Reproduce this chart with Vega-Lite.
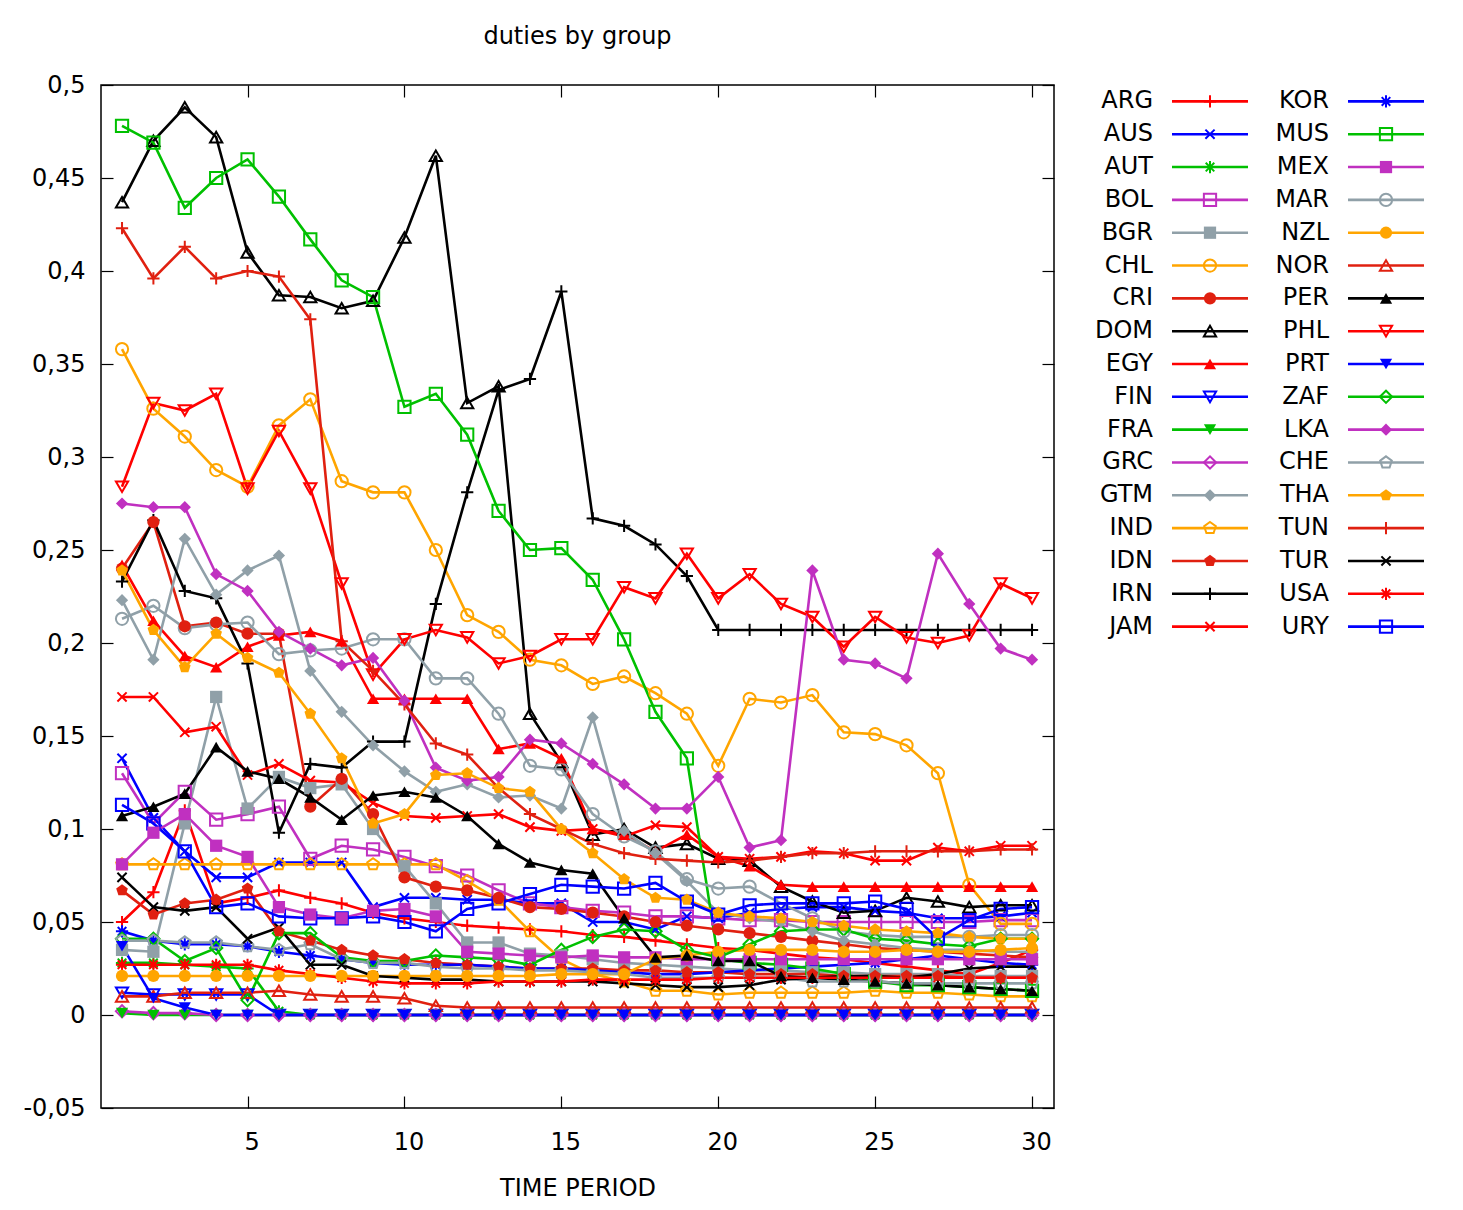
{
"$schema":"https://vega.github.io/schema/vega-lite/v6.json",
"padding":{"left":22,"top":24,"right":5,"bottom":5},
"config":{"font":"DejaVu Sans","view":{"stroke":null},"text":{"fontSize":24},"axis":{"labelFontSize":24,"titleFontSize":24,"labelColor":"#000","titleColor":"#000","tickColor":"#000","titleFontWeight":"normal"}},
"data":{"values":[
{"c":"ARG","t":1,"v":0.050},{"c":"ARG","t":2,"v":0.066},{"c":"ARG","t":3,"v":0.110},{"c":"ARG","t":4,"v":0.060},{"c":"ARG","t":5,"v":0.063},{"c":"ARG","t":6,"v":0.067},{"c":"ARG","t":7,"v":0.063},{"c":"ARG","t":8,"v":0.060},{"c":"ARG","t":9,"v":0.055},{"c":"ARG","t":10,"v":0.052},{"c":"ARG","t":11,"v":0.050},{"c":"ARG","t":12,"v":0.048},{"c":"ARG","t":13,"v":0.047},{"c":"ARG","t":14,"v":0.046},{"c":"ARG","t":15,"v":0.045},{"c":"ARG","t":16,"v":0.043},{"c":"ARG","t":17,"v":0.042},{"c":"ARG","t":18,"v":0.040},{"c":"ARG","t":19,"v":0.038},{"c":"ARG","t":20,"v":0.036},{"c":"ARG","t":21,"v":0.035},{"c":"ARG","t":22,"v":0.033},{"c":"ARG","t":23,"v":0.031},{"c":"ARG","t":24,"v":0.030},{"c":"ARG","t":25,"v":0.028},{"c":"ARG","t":26,"v":0.026},{"c":"ARG","t":27,"v":0.024},{"c":"ARG","t":28,"v":0.022},{"c":"ARG","t":29,"v":0.028},{"c":"ARG","t":30,"v":0.035},
{"c":"AUS","t":1,"v":0.138},{"c":"AUS","t":2,"v":0.106},{"c":"AUS","t":3,"v":0.088},{"c":"AUS","t":4,"v":0.074},{"c":"AUS","t":5,"v":0.074},{"c":"AUS","t":6,"v":0.082},{"c":"AUS","t":7,"v":0.082},{"c":"AUS","t":8,"v":0.082},{"c":"AUS","t":9,"v":0.058},{"c":"AUS","t":10,"v":0.063},{"c":"AUS","t":11,"v":0.063},{"c":"AUS","t":12,"v":0.062},{"c":"AUS","t":13,"v":0.062},{"c":"AUS","t":14,"v":0.060},{"c":"AUS","t":15,"v":0.060},{"c":"AUS","t":16,"v":0.050},{"c":"AUS","t":17,"v":0.050},{"c":"AUS","t":18,"v":0.046},{"c":"AUS","t":19,"v":0.053},{"c":"AUS","t":20,"v":0.052},{"c":"AUS","t":21,"v":0.055},{"c":"AUS","t":22,"v":0.057},{"c":"AUS","t":23,"v":0.058},{"c":"AUS","t":24,"v":0.058},{"c":"AUS","t":25,"v":0.056},{"c":"AUS","t":26,"v":0.055},{"c":"AUS","t":27,"v":0.052},{"c":"AUS","t":28,"v":0.052},{"c":"AUS","t":29,"v":0.053},{"c":"AUS","t":30,"v":0.055},
{"c":"AUT","t":1,"v":0.028},{"c":"AUT","t":2,"v":0.028},{"c":"AUT","t":3,"v":0.027},{"c":"AUT","t":4,"v":0.026},{"c":"AUT","t":5,"v":0.025},{"c":"AUT","t":6,"v":0.002},{"c":"AUT","t":7,"v":0},{"c":"AUT","t":8,"v":0},{"c":"AUT","t":9,"v":0},{"c":"AUT","t":10,"v":0},{"c":"AUT","t":11,"v":0},{"c":"AUT","t":12,"v":0},{"c":"AUT","t":13,"v":0},{"c":"AUT","t":14,"v":0},{"c":"AUT","t":15,"v":0},{"c":"AUT","t":16,"v":0},{"c":"AUT","t":17,"v":0},{"c":"AUT","t":18,"v":0},{"c":"AUT","t":19,"v":0},{"c":"AUT","t":20,"v":0},{"c":"AUT","t":21,"v":0},{"c":"AUT","t":22,"v":0},{"c":"AUT","t":23,"v":0},{"c":"AUT","t":24,"v":0},{"c":"AUT","t":25,"v":0},{"c":"AUT","t":26,"v":0},{"c":"AUT","t":27,"v":0},{"c":"AUT","t":28,"v":0},{"c":"AUT","t":29,"v":0},{"c":"AUT","t":30,"v":0},
{"c":"BOL","t":1,"v":0.130},{"c":"BOL","t":2,"v":0.103},{"c":"BOL","t":3,"v":0.120},{"c":"BOL","t":4,"v":0.105},{"c":"BOL","t":5,"v":0.108},{"c":"BOL","t":6,"v":0.112},{"c":"BOL","t":7,"v":0.084},{"c":"BOL","t":8,"v":0.091},{"c":"BOL","t":9,"v":0.089},{"c":"BOL","t":10,"v":0.085},{"c":"BOL","t":11,"v":0.080},{"c":"BOL","t":12,"v":0.075},{"c":"BOL","t":13,"v":0.067},{"c":"BOL","t":14,"v":0.060},{"c":"BOL","t":15,"v":0.058},{"c":"BOL","t":16,"v":0.056},{"c":"BOL","t":17,"v":0.055},{"c":"BOL","t":18,"v":0.053},{"c":"BOL","t":19,"v":0.053},{"c":"BOL","t":20,"v":0.052},{"c":"BOL","t":21,"v":0.051},{"c":"BOL","t":22,"v":0.051},{"c":"BOL","t":23,"v":0.050},{"c":"BOL","t":24,"v":0.050},{"c":"BOL","t":25,"v":0.050},{"c":"BOL","t":26,"v":0.050},{"c":"BOL","t":27,"v":0.050},{"c":"BOL","t":28,"v":0.050},{"c":"BOL","t":29,"v":0.051},{"c":"BOL","t":30,"v":0.051},
{"c":"BGR","t":1,"v":0.035},{"c":"BGR","t":2,"v":0.034},{"c":"BGR","t":3,"v":0.103},{"c":"BGR","t":4,"v":0.171},{"c":"BGR","t":5,"v":0.111},{"c":"BGR","t":6,"v":0.128},{"c":"BGR","t":7,"v":0.122},{"c":"BGR","t":8,"v":0.124},{"c":"BGR","t":9,"v":0.100},{"c":"BGR","t":10,"v":0.080},{"c":"BGR","t":11,"v":0.060},{"c":"BGR","t":12,"v":0.039},{"c":"BGR","t":13,"v":0.039},{"c":"BGR","t":14,"v":0.033},{"c":"BGR","t":15,"v":0.032},{"c":"BGR","t":16,"v":0.030},{"c":"BGR","t":17,"v":0.028},{"c":"BGR","t":18,"v":0.027},{"c":"BGR","t":19,"v":0.026},{"c":"BGR","t":20,"v":0.025},{"c":"BGR","t":21,"v":0.024},{"c":"BGR","t":22,"v":0.024},{"c":"BGR","t":23,"v":0.023},{"c":"BGR","t":24,"v":0.023},{"c":"BGR","t":25,"v":0.022},{"c":"BGR","t":26,"v":0.022},{"c":"BGR","t":27,"v":0.022},{"c":"BGR","t":28,"v":0.021},{"c":"BGR","t":29,"v":0.021},{"c":"BGR","t":30,"v":0.021},
{"c":"CHL","t":1,"v":0.358},{"c":"CHL","t":2,"v":0.326},{"c":"CHL","t":3,"v":0.311},{"c":"CHL","t":4,"v":0.293},{"c":"CHL","t":5,"v":0.284},{"c":"CHL","t":6,"v":0.317},{"c":"CHL","t":7,"v":0.331},{"c":"CHL","t":8,"v":0.287},{"c":"CHL","t":9,"v":0.281},{"c":"CHL","t":10,"v":0.281},{"c":"CHL","t":11,"v":0.250},{"c":"CHL","t":12,"v":0.215},{"c":"CHL","t":13,"v":0.206},{"c":"CHL","t":14,"v":0.191},{"c":"CHL","t":15,"v":0.188},{"c":"CHL","t":16,"v":0.178},{"c":"CHL","t":17,"v":0.182},{"c":"CHL","t":18,"v":0.173},{"c":"CHL","t":19,"v":0.162},{"c":"CHL","t":20,"v":0.134},{"c":"CHL","t":21,"v":0.170},{"c":"CHL","t":22,"v":0.168},{"c":"CHL","t":23,"v":0.172},{"c":"CHL","t":24,"v":0.152},{"c":"CHL","t":25,"v":0.151},{"c":"CHL","t":26,"v":0.145},{"c":"CHL","t":27,"v":0.130},{"c":"CHL","t":28,"v":0.070},{"c":"CHL","t":29,"v":0.049},{"c":"CHL","t":30,"v":0.049},
{"c":"CRI","t":1,"v":0.240},{"c":"CRI","t":2,"v":0.265},{"c":"CRI","t":3,"v":0.209},{"c":"CRI","t":4,"v":0.211},{"c":"CRI","t":5,"v":0.205},{"c":"CRI","t":6,"v":0.205},{"c":"CRI","t":7,"v":0.112},{"c":"CRI","t":8,"v":0.127},{"c":"CRI","t":9,"v":0.108},{"c":"CRI","t":10,"v":0.074},{"c":"CRI","t":11,"v":0.069},{"c":"CRI","t":12,"v":0.067},{"c":"CRI","t":13,"v":0.063},{"c":"CRI","t":14,"v":0.058},{"c":"CRI","t":15,"v":0.057},{"c":"CRI","t":16,"v":0.055},{"c":"CRI","t":17,"v":0.053},{"c":"CRI","t":18,"v":0.050},{"c":"CRI","t":19,"v":0.048},{"c":"CRI","t":20,"v":0.046},{"c":"CRI","t":21,"v":0.044},{"c":"CRI","t":22,"v":0.042},{"c":"CRI","t":23,"v":0.040},{"c":"CRI","t":24,"v":0.038},{"c":"CRI","t":25,"v":0.036},{"c":"CRI","t":26,"v":0.035},{"c":"CRI","t":27,"v":0.034},{"c":"CRI","t":28,"v":0.033},{"c":"CRI","t":29,"v":0.032},{"c":"CRI","t":30,"v":0.031},
{"c":"DOM","t":1,"v":0.437},{"c":"DOM","t":2,"v":0.470},{"c":"DOM","t":3,"v":0.488},{"c":"DOM","t":4,"v":0.472},{"c":"DOM","t":5,"v":0.410},{"c":"DOM","t":6,"v":0.387},{"c":"DOM","t":7,"v":0.386},{"c":"DOM","t":8,"v":0.380},{"c":"DOM","t":9,"v":0.384},{"c":"DOM","t":10,"v":0.418},{"c":"DOM","t":11,"v":0.462},{"c":"DOM","t":12,"v":0.329},{"c":"DOM","t":13,"v":0.338},{"c":"DOM","t":14,"v":0.162},{"c":"DOM","t":15,"v":0.136},{"c":"DOM","t":16,"v":0.097},{"c":"DOM","t":17,"v":0.100},{"c":"DOM","t":18,"v":0.090},{"c":"DOM","t":19,"v":0.092},{"c":"DOM","t":20,"v":0.084},{"c":"DOM","t":21,"v":0.083},{"c":"DOM","t":22,"v":0.069},{"c":"DOM","t":23,"v":0.061},{"c":"DOM","t":24,"v":0.055},{"c":"DOM","t":25,"v":0.056},{"c":"DOM","t":26,"v":0.063},{"c":"DOM","t":27,"v":0.061},{"c":"DOM","t":28,"v":0.058},{"c":"DOM","t":29,"v":0.059},{"c":"DOM","t":30,"v":0.059},
{"c":"EGY","t":1,"v":0.242},{"c":"EGY","t":2,"v":0.212},{"c":"EGY","t":3,"v":0.193},{"c":"EGY","t":4,"v":0.187},{"c":"EGY","t":5,"v":0.198},{"c":"EGY","t":6,"v":0.204},{"c":"EGY","t":7,"v":0.206},{"c":"EGY","t":8,"v":0.201},{"c":"EGY","t":9,"v":0.170},{"c":"EGY","t":10,"v":0.170},{"c":"EGY","t":11,"v":0.170},{"c":"EGY","t":12,"v":0.170},{"c":"EGY","t":13,"v":0.143},{"c":"EGY","t":14,"v":0.146},{"c":"EGY","t":15,"v":0.138},{"c":"EGY","t":16,"v":0.100},{"c":"EGY","t":17,"v":0.097},{"c":"EGY","t":18,"v":0.088},{"c":"EGY","t":19,"v":0.097},{"c":"EGY","t":20,"v":0.085},{"c":"EGY","t":21,"v":0.080},{"c":"EGY","t":22,"v":0.070},{"c":"EGY","t":23,"v":0.069},{"c":"EGY","t":24,"v":0.069},{"c":"EGY","t":25,"v":0.069},{"c":"EGY","t":26,"v":0.069},{"c":"EGY","t":27,"v":0.069},{"c":"EGY","t":28,"v":0.069},{"c":"EGY","t":29,"v":0.069},{"c":"EGY","t":30,"v":0.069},
{"c":"FIN","t":1,"v":0.012},{"c":"FIN","t":2,"v":0.011},{"c":"FIN","t":3,"v":0.011},{"c":"FIN","t":4,"v":0.011},{"c":"FIN","t":5,"v":0.011},{"c":"FIN","t":6,"v":0},{"c":"FIN","t":7,"v":0},{"c":"FIN","t":8,"v":0},{"c":"FIN","t":9,"v":0},{"c":"FIN","t":10,"v":0},{"c":"FIN","t":11,"v":0},{"c":"FIN","t":12,"v":0},{"c":"FIN","t":13,"v":0},{"c":"FIN","t":14,"v":0},{"c":"FIN","t":15,"v":0},{"c":"FIN","t":16,"v":0},{"c":"FIN","t":17,"v":0},{"c":"FIN","t":18,"v":0},{"c":"FIN","t":19,"v":0},{"c":"FIN","t":20,"v":0},{"c":"FIN","t":21,"v":0},{"c":"FIN","t":22,"v":0},{"c":"FIN","t":23,"v":0},{"c":"FIN","t":24,"v":0},{"c":"FIN","t":25,"v":0},{"c":"FIN","t":26,"v":0},{"c":"FIN","t":27,"v":0},{"c":"FIN","t":28,"v":0},{"c":"FIN","t":29,"v":0},{"c":"FIN","t":30,"v":0},
{"c":"FRA","t":1,"v":0.001},{"c":"FRA","t":2,"v":0},{"c":"FRA","t":3,"v":0},{"c":"FRA","t":4,"v":0},{"c":"FRA","t":5,"v":0},{"c":"FRA","t":6,"v":0},{"c":"FRA","t":7,"v":0},{"c":"FRA","t":8,"v":0},{"c":"FRA","t":9,"v":0},{"c":"FRA","t":10,"v":0},{"c":"FRA","t":11,"v":0},{"c":"FRA","t":12,"v":0},{"c":"FRA","t":13,"v":0},{"c":"FRA","t":14,"v":0},{"c":"FRA","t":15,"v":0},{"c":"FRA","t":16,"v":0},{"c":"FRA","t":17,"v":0},{"c":"FRA","t":18,"v":0},{"c":"FRA","t":19,"v":0},{"c":"FRA","t":20,"v":0},{"c":"FRA","t":21,"v":0},{"c":"FRA","t":22,"v":0},{"c":"FRA","t":23,"v":0},{"c":"FRA","t":24,"v":0},{"c":"FRA","t":25,"v":0},{"c":"FRA","t":26,"v":0},{"c":"FRA","t":27,"v":0},{"c":"FRA","t":28,"v":0},{"c":"FRA","t":29,"v":0},{"c":"FRA","t":30,"v":0},
{"c":"GRC","t":1,"v":0.002},{"c":"GRC","t":2,"v":0.001},{"c":"GRC","t":3,"v":0.001},{"c":"GRC","t":4,"v":0},{"c":"GRC","t":5,"v":0},{"c":"GRC","t":6,"v":0},{"c":"GRC","t":7,"v":0},{"c":"GRC","t":8,"v":0},{"c":"GRC","t":9,"v":0},{"c":"GRC","t":10,"v":0},{"c":"GRC","t":11,"v":0},{"c":"GRC","t":12,"v":0},{"c":"GRC","t":13,"v":0},{"c":"GRC","t":14,"v":0},{"c":"GRC","t":15,"v":0},{"c":"GRC","t":16,"v":0},{"c":"GRC","t":17,"v":0},{"c":"GRC","t":18,"v":0},{"c":"GRC","t":19,"v":0},{"c":"GRC","t":20,"v":0},{"c":"GRC","t":21,"v":0},{"c":"GRC","t":22,"v":0},{"c":"GRC","t":23,"v":0},{"c":"GRC","t":24,"v":0},{"c":"GRC","t":25,"v":0},{"c":"GRC","t":26,"v":0},{"c":"GRC","t":27,"v":0},{"c":"GRC","t":28,"v":0},{"c":"GRC","t":29,"v":0},{"c":"GRC","t":30,"v":0},
{"c":"GTM","t":1,"v":0.223},{"c":"GTM","t":2,"v":0.191},{"c":"GTM","t":3,"v":0.256},{"c":"GTM","t":4,"v":0.226},{"c":"GTM","t":5,"v":0.239},{"c":"GTM","t":6,"v":0.247},{"c":"GTM","t":7,"v":0.185},{"c":"GTM","t":8,"v":0.163},{"c":"GTM","t":9,"v":0.145},{"c":"GTM","t":10,"v":0.131},{"c":"GTM","t":11,"v":0.120},{"c":"GTM","t":12,"v":0.124},{"c":"GTM","t":13,"v":0.117},{"c":"GTM","t":14,"v":0.118},{"c":"GTM","t":15,"v":0.111},{"c":"GTM","t":16,"v":0.160},{"c":"GTM","t":17,"v":0.099},{"c":"GTM","t":18,"v":0.087},{"c":"GTM","t":19,"v":0.072},{"c":"GTM","t":20,"v":0.055},{"c":"GTM","t":21,"v":0.052},{"c":"GTM","t":22,"v":0.050},{"c":"GTM","t":23,"v":0.045},{"c":"GTM","t":24,"v":0.040},{"c":"GTM","t":25,"v":0.038},{"c":"GTM","t":26,"v":0.036},{"c":"GTM","t":27,"v":0.035},{"c":"GTM","t":28,"v":0.035},{"c":"GTM","t":29,"v":0.034},{"c":"GTM","t":30,"v":0.034},
{"c":"IND","t":1,"v":0.081},{"c":"IND","t":2,"v":0.081},{"c":"IND","t":3,"v":0.081},{"c":"IND","t":4,"v":0.081},{"c":"IND","t":5,"v":0.081},{"c":"IND","t":6,"v":0.081},{"c":"IND","t":7,"v":0.081},{"c":"IND","t":8,"v":0.081},{"c":"IND","t":9,"v":0.081},{"c":"IND","t":10,"v":0.081},{"c":"IND","t":11,"v":0.081},{"c":"IND","t":12,"v":0.072},{"c":"IND","t":13,"v":0.062},{"c":"IND","t":14,"v":0.045},{"c":"IND","t":15,"v":0.030},{"c":"IND","t":16,"v":0.022},{"c":"IND","t":17,"v":0.018},{"c":"IND","t":18,"v":0.013},{"c":"IND","t":19,"v":0.013},{"c":"IND","t":20,"v":0.011},{"c":"IND","t":21,"v":0.012},{"c":"IND","t":22,"v":0.012},{"c":"IND","t":23,"v":0.012},{"c":"IND","t":24,"v":0.012},{"c":"IND","t":25,"v":0.013},{"c":"IND","t":26,"v":0.012},{"c":"IND","t":27,"v":0.012},{"c":"IND","t":28,"v":0.011},{"c":"IND","t":29,"v":0.010},{"c":"IND","t":30,"v":0.010},
{"c":"IDN","t":1,"v":0.067},{"c":"IDN","t":2,"v":0.054},{"c":"IDN","t":3,"v":0.060},{"c":"IDN","t":4,"v":0.062},{"c":"IDN","t":5,"v":0.068},{"c":"IDN","t":6,"v":0.045},{"c":"IDN","t":7,"v":0.040},{"c":"IDN","t":8,"v":0.035},{"c":"IDN","t":9,"v":0.032},{"c":"IDN","t":10,"v":0.030},{"c":"IDN","t":11,"v":0.028},{"c":"IDN","t":12,"v":0.027},{"c":"IDN","t":13,"v":0.026},{"c":"IDN","t":14,"v":0.025},{"c":"IDN","t":15,"v":0.025},{"c":"IDN","t":16,"v":0.025},{"c":"IDN","t":17,"v":0.024},{"c":"IDN","t":18,"v":0.024},{"c":"IDN","t":19,"v":0.023},{"c":"IDN","t":20,"v":0.023},{"c":"IDN","t":21,"v":0.022},{"c":"IDN","t":22,"v":0.022},{"c":"IDN","t":23,"v":0.022},{"c":"IDN","t":24,"v":0.021},{"c":"IDN","t":25,"v":0.021},{"c":"IDN","t":26,"v":0.021},{"c":"IDN","t":27,"v":0.021},{"c":"IDN","t":28,"v":0.020},{"c":"IDN","t":29,"v":0.020},{"c":"IDN","t":30,"v":0.020},
{"c":"IRN","t":1,"v":0.233},{"c":"IRN","t":2,"v":0.266},{"c":"IRN","t":3,"v":0.228},{"c":"IRN","t":4,"v":0.224},{"c":"IRN","t":5,"v":0.189},{"c":"IRN","t":6,"v":0.098},{"c":"IRN","t":7,"v":0.135},{"c":"IRN","t":8,"v":0.133},{"c":"IRN","t":9,"v":0.147},{"c":"IRN","t":10,"v":0.147},{"c":"IRN","t":11,"v":0.221},{"c":"IRN","t":12,"v":0.281},{"c":"IRN","t":13,"v":0.336},{"c":"IRN","t":14,"v":0.342},{"c":"IRN","t":15,"v":0.389},{"c":"IRN","t":16,"v":0.267},{"c":"IRN","t":17,"v":0.263},{"c":"IRN","t":18,"v":0.253},{"c":"IRN","t":19,"v":0.236},{"c":"IRN","t":20,"v":0.207},{"c":"IRN","t":21,"v":0.207},{"c":"IRN","t":22,"v":0.207},{"c":"IRN","t":23,"v":0.207},{"c":"IRN","t":24,"v":0.207},{"c":"IRN","t":25,"v":0.207},{"c":"IRN","t":26,"v":0.207},{"c":"IRN","t":27,"v":0.207},{"c":"IRN","t":28,"v":0.207},{"c":"IRN","t":29,"v":0.207},{"c":"IRN","t":30,"v":0.207},
{"c":"JAM","t":1,"v":0.171},{"c":"JAM","t":2,"v":0.171},{"c":"JAM","t":3,"v":0.152},{"c":"JAM","t":4,"v":0.155},{"c":"JAM","t":5,"v":0.129},{"c":"JAM","t":6,"v":0.135},{"c":"JAM","t":7,"v":0.126},{"c":"JAM","t":8,"v":0.125},{"c":"JAM","t":9,"v":0.114},{"c":"JAM","t":10,"v":0.107},{"c":"JAM","t":11,"v":0.106},{"c":"JAM","t":12,"v":0.107},{"c":"JAM","t":13,"v":0.108},{"c":"JAM","t":14,"v":0.101},{"c":"JAM","t":15,"v":0.099},{"c":"JAM","t":16,"v":0.100},{"c":"JAM","t":17,"v":0.096},{"c":"JAM","t":18,"v":0.102},{"c":"JAM","t":19,"v":0.101},{"c":"JAM","t":20,"v":0.085},{"c":"JAM","t":21,"v":0.084},{"c":"JAM","t":22,"v":0.085},{"c":"JAM","t":23,"v":0.088},{"c":"JAM","t":24,"v":0.087},{"c":"JAM","t":25,"v":0.083},{"c":"JAM","t":26,"v":0.083},{"c":"JAM","t":27,"v":0.090},{"c":"JAM","t":28,"v":0.088},{"c":"JAM","t":29,"v":0.091},{"c":"JAM","t":30,"v":0.091},
{"c":"KOR","t":1,"v":0.045},{"c":"KOR","t":2,"v":0.040},{"c":"KOR","t":3,"v":0.038},{"c":"KOR","t":4,"v":0.038},{"c":"KOR","t":5,"v":0.037},{"c":"KOR","t":6,"v":0.034},{"c":"KOR","t":7,"v":0.032},{"c":"KOR","t":8,"v":0.030},{"c":"KOR","t":9,"v":0.028},{"c":"KOR","t":10,"v":0.027},{"c":"KOR","t":11,"v":0.027},{"c":"KOR","t":12,"v":0.027},{"c":"KOR","t":13,"v":0.026},{"c":"KOR","t":14,"v":0.025},{"c":"KOR","t":15,"v":0.025},{"c":"KOR","t":16,"v":0.024},{"c":"KOR","t":17,"v":0.023},{"c":"KOR","t":18,"v":0.022},{"c":"KOR","t":19,"v":0.022},{"c":"KOR","t":20,"v":0.023},{"c":"KOR","t":21,"v":0.024},{"c":"KOR","t":22,"v":0.025},{"c":"KOR","t":23,"v":0.026},{"c":"KOR","t":24,"v":0.027},{"c":"KOR","t":25,"v":0.028},{"c":"KOR","t":26,"v":0.030},{"c":"KOR","t":27,"v":0.032},{"c":"KOR","t":28,"v":0.030},{"c":"KOR","t":29,"v":0.028},{"c":"KOR","t":30,"v":0.027},
{"c":"MUS","t":1,"v":0.478},{"c":"MUS","t":2,"v":0.469},{"c":"MUS","t":3,"v":0.434},{"c":"MUS","t":4,"v":0.450},{"c":"MUS","t":5,"v":0.460},{"c":"MUS","t":6,"v":0.440},{"c":"MUS","t":7,"v":0.417},{"c":"MUS","t":8,"v":0.395},{"c":"MUS","t":9,"v":0.386},{"c":"MUS","t":10,"v":0.327},{"c":"MUS","t":11,"v":0.334},{"c":"MUS","t":12,"v":0.312},{"c":"MUS","t":13,"v":0.271},{"c":"MUS","t":14,"v":0.250},{"c":"MUS","t":15,"v":0.251},{"c":"MUS","t":16,"v":0.234},{"c":"MUS","t":17,"v":0.202},{"c":"MUS","t":18,"v":0.163},{"c":"MUS","t":19,"v":0.138},{"c":"MUS","t":20,"v":0.030},{"c":"MUS","t":21,"v":0.028},{"c":"MUS","t":22,"v":0.027},{"c":"MUS","t":23,"v":0.025},{"c":"MUS","t":24,"v":0.022},{"c":"MUS","t":25,"v":0.018},{"c":"MUS","t":26,"v":0.016},{"c":"MUS","t":27,"v":0.016},{"c":"MUS","t":28,"v":0.015},{"c":"MUS","t":29,"v":0.014},{"c":"MUS","t":30,"v":0.013},
{"c":"MEX","t":1,"v":0.081},{"c":"MEX","t":2,"v":0.098},{"c":"MEX","t":3,"v":0.108},{"c":"MEX","t":4,"v":0.091},{"c":"MEX","t":5,"v":0.085},{"c":"MEX","t":6,"v":0.058},{"c":"MEX","t":7,"v":0.054},{"c":"MEX","t":8,"v":0.052},{"c":"MEX","t":9,"v":0.056},{"c":"MEX","t":10,"v":0.057},{"c":"MEX","t":11,"v":0.053},{"c":"MEX","t":12,"v":0.034},{"c":"MEX","t":13,"v":0.033},{"c":"MEX","t":14,"v":0.032},{"c":"MEX","t":15,"v":0.031},{"c":"MEX","t":16,"v":0.032},{"c":"MEX","t":17,"v":0.031},{"c":"MEX","t":18,"v":0.031},{"c":"MEX","t":19,"v":0.030},{"c":"MEX","t":20,"v":0.030},{"c":"MEX","t":21,"v":0.030},{"c":"MEX","t":22,"v":0.030},{"c":"MEX","t":23,"v":0.030},{"c":"MEX","t":24,"v":0.030},{"c":"MEX","t":25,"v":0.030},{"c":"MEX","t":26,"v":0.030},{"c":"MEX","t":27,"v":0.030},{"c":"MEX","t":28,"v":0.030},{"c":"MEX","t":29,"v":0.030},{"c":"MEX","t":30,"v":0.030},
{"c":"MAR","t":1,"v":0.213},{"c":"MAR","t":2,"v":0.220},{"c":"MAR","t":3,"v":0.208},{"c":"MAR","t":4,"v":0.210},{"c":"MAR","t":5,"v":0.211},{"c":"MAR","t":6,"v":0.194},{"c":"MAR","t":7,"v":0.196},{"c":"MAR","t":8,"v":0.197},{"c":"MAR","t":9,"v":0.202},{"c":"MAR","t":10,"v":0.202},{"c":"MAR","t":11,"v":0.181},{"c":"MAR","t":12,"v":0.181},{"c":"MAR","t":13,"v":0.162},{"c":"MAR","t":14,"v":0.134},{"c":"MAR","t":15,"v":0.132},{"c":"MAR","t":16,"v":0.108},{"c":"MAR","t":17,"v":0.096},{"c":"MAR","t":18,"v":0.088},{"c":"MAR","t":19,"v":0.073},{"c":"MAR","t":20,"v":0.068},{"c":"MAR","t":21,"v":0.069},{"c":"MAR","t":22,"v":0.060},{"c":"MAR","t":23,"v":0.052},{"c":"MAR","t":24,"v":0.045},{"c":"MAR","t":25,"v":0.043},{"c":"MAR","t":26,"v":0.042},{"c":"MAR","t":27,"v":0.042},{"c":"MAR","t":28,"v":0.042},{"c":"MAR","t":29,"v":0.043},{"c":"MAR","t":30,"v":0.043},
{"c":"NZL","t":1,"v":0.021},{"c":"NZL","t":2,"v":0.021},{"c":"NZL","t":3,"v":0.021},{"c":"NZL","t":4,"v":0.021},{"c":"NZL","t":5,"v":0.021},{"c":"NZL","t":6,"v":0.021},{"c":"NZL","t":7,"v":0.021},{"c":"NZL","t":8,"v":0.021},{"c":"NZL","t":9,"v":0.021},{"c":"NZL","t":10,"v":0.021},{"c":"NZL","t":11,"v":0.021},{"c":"NZL","t":12,"v":0.021},{"c":"NZL","t":13,"v":0.021},{"c":"NZL","t":14,"v":0.021},{"c":"NZL","t":15,"v":0.022},{"c":"NZL","t":16,"v":0.022},{"c":"NZL","t":17,"v":0.022},{"c":"NZL","t":18,"v":0.030},{"c":"NZL","t":19,"v":0.032},{"c":"NZL","t":20,"v":0.034},{"c":"NZL","t":21,"v":0.035},{"c":"NZL","t":22,"v":0.035},{"c":"NZL","t":23,"v":0.035},{"c":"NZL","t":24,"v":0.034},{"c":"NZL","t":25,"v":0.034},{"c":"NZL","t":26,"v":0.035},{"c":"NZL","t":27,"v":0.034},{"c":"NZL","t":28,"v":0.034},{"c":"NZL","t":29,"v":0.035},{"c":"NZL","t":30,"v":0.036},
{"c":"NOR","t":1,"v":0.010},{"c":"NOR","t":2,"v":0.010},{"c":"NOR","t":3,"v":0.012},{"c":"NOR","t":4,"v":0.012},{"c":"NOR","t":5,"v":0.012},{"c":"NOR","t":6,"v":0.013},{"c":"NOR","t":7,"v":0.011},{"c":"NOR","t":8,"v":0.010},{"c":"NOR","t":9,"v":0.010},{"c":"NOR","t":10,"v":0.009},{"c":"NOR","t":11,"v":0.005},{"c":"NOR","t":12,"v":0.004},{"c":"NOR","t":13,"v":0.004},{"c":"NOR","t":14,"v":0.004},{"c":"NOR","t":15,"v":0.004},{"c":"NOR","t":16,"v":0.004},{"c":"NOR","t":17,"v":0.004},{"c":"NOR","t":18,"v":0.004},{"c":"NOR","t":19,"v":0.004},{"c":"NOR","t":20,"v":0.004},{"c":"NOR","t":21,"v":0.004},{"c":"NOR","t":22,"v":0.004},{"c":"NOR","t":23,"v":0.004},{"c":"NOR","t":24,"v":0.004},{"c":"NOR","t":25,"v":0.004},{"c":"NOR","t":26,"v":0.004},{"c":"NOR","t":27,"v":0.004},{"c":"NOR","t":28,"v":0.004},{"c":"NOR","t":29,"v":0.004},{"c":"NOR","t":30,"v":0.004},
{"c":"PER","t":1,"v":0.107},{"c":"PER","t":2,"v":0.112},{"c":"PER","t":3,"v":0.119},{"c":"PER","t":4,"v":0.144},{"c":"PER","t":5,"v":0.131},{"c":"PER","t":6,"v":0.127},{"c":"PER","t":7,"v":0.117},{"c":"PER","t":8,"v":0.105},{"c":"PER","t":9,"v":0.118},{"c":"PER","t":10,"v":0.120},{"c":"PER","t":11,"v":0.117},{"c":"PER","t":12,"v":0.107},{"c":"PER","t":13,"v":0.092},{"c":"PER","t":14,"v":0.082},{"c":"PER","t":15,"v":0.078},{"c":"PER","t":16,"v":0.076},{"c":"PER","t":17,"v":0.052},{"c":"PER","t":18,"v":0.031},{"c":"PER","t":19,"v":0.032},{"c":"PER","t":20,"v":0.029},{"c":"PER","t":21,"v":0.029},{"c":"PER","t":22,"v":0.021},{"c":"PER","t":23,"v":0.020},{"c":"PER","t":24,"v":0.019},{"c":"PER","t":25,"v":0.018},{"c":"PER","t":26,"v":0.017},{"c":"PER","t":27,"v":0.016},{"c":"PER","t":28,"v":0.015},{"c":"PER","t":29,"v":0.014},{"c":"PER","t":30,"v":0.013},
{"c":"PHL","t":1,"v":0.284},{"c":"PHL","t":2,"v":0.329},{"c":"PHL","t":3,"v":0.325},{"c":"PHL","t":4,"v":0.334},{"c":"PHL","t":5,"v":0.283},{"c":"PHL","t":6,"v":0.314},{"c":"PHL","t":7,"v":0.283},{"c":"PHL","t":8,"v":0.232},{"c":"PHL","t":9,"v":0.183},{"c":"PHL","t":10,"v":0.202},{"c":"PHL","t":11,"v":0.207},{"c":"PHL","t":12,"v":0.203},{"c":"PHL","t":13,"v":0.189},{"c":"PHL","t":14,"v":0.193},{"c":"PHL","t":15,"v":0.202},{"c":"PHL","t":16,"v":0.202},{"c":"PHL","t":17,"v":0.230},{"c":"PHL","t":18,"v":0.224},{"c":"PHL","t":19,"v":0.248},{"c":"PHL","t":20,"v":0.224},{"c":"PHL","t":21,"v":0.237},{"c":"PHL","t":22,"v":0.221},{"c":"PHL","t":23,"v":0.214},{"c":"PHL","t":24,"v":0.198},{"c":"PHL","t":25,"v":0.214},{"c":"PHL","t":26,"v":0.203},{"c":"PHL","t":27,"v":0.200},{"c":"PHL","t":28,"v":0.204},{"c":"PHL","t":29,"v":0.232},{"c":"PHL","t":30,"v":0.224},
{"c":"PRT","t":1,"v":0.037},{"c":"PRT","t":2,"v":0.009},{"c":"PRT","t":3,"v":0.004},{"c":"PRT","t":4,"v":0},{"c":"PRT","t":5,"v":0},{"c":"PRT","t":6,"v":0},{"c":"PRT","t":7,"v":0},{"c":"PRT","t":8,"v":0},{"c":"PRT","t":9,"v":0},{"c":"PRT","t":10,"v":0},{"c":"PRT","t":11,"v":0},{"c":"PRT","t":12,"v":0},{"c":"PRT","t":13,"v":0},{"c":"PRT","t":14,"v":0},{"c":"PRT","t":15,"v":0},{"c":"PRT","t":16,"v":0},{"c":"PRT","t":17,"v":0},{"c":"PRT","t":18,"v":0},{"c":"PRT","t":19,"v":0},{"c":"PRT","t":20,"v":0},{"c":"PRT","t":21,"v":0},{"c":"PRT","t":22,"v":0},{"c":"PRT","t":23,"v":0},{"c":"PRT","t":24,"v":0},{"c":"PRT","t":25,"v":0},{"c":"PRT","t":26,"v":0},{"c":"PRT","t":27,"v":0},{"c":"PRT","t":28,"v":0},{"c":"PRT","t":29,"v":0},{"c":"PRT","t":30,"v":0},
{"c":"ZAF","t":1,"v":0.041},{"c":"ZAF","t":2,"v":0.041},{"c":"ZAF","t":3,"v":0.029},{"c":"ZAF","t":4,"v":0.036},{"c":"ZAF","t":5,"v":0.008},{"c":"ZAF","t":6,"v":0.044},{"c":"ZAF","t":7,"v":0.044},{"c":"ZAF","t":8,"v":0.031},{"c":"ZAF","t":9,"v":0.029},{"c":"ZAF","t":10,"v":0.029},{"c":"ZAF","t":11,"v":0.032},{"c":"ZAF","t":12,"v":0.031},{"c":"ZAF","t":13,"v":0.030},{"c":"ZAF","t":14,"v":0.027},{"c":"ZAF","t":15,"v":0.035},{"c":"ZAF","t":16,"v":0.042},{"c":"ZAF","t":17,"v":0.046},{"c":"ZAF","t":18,"v":0.045},{"c":"ZAF","t":19,"v":0.035},{"c":"ZAF","t":20,"v":0.031},{"c":"ZAF","t":21,"v":0.038},{"c":"ZAF","t":22,"v":0.045},{"c":"ZAF","t":23,"v":0.046},{"c":"ZAF","t":24,"v":0.046},{"c":"ZAF","t":25,"v":0.041},{"c":"ZAF","t":26,"v":0.040},{"c":"ZAF","t":27,"v":0.038},{"c":"ZAF","t":28,"v":0.037},{"c":"ZAF","t":29,"v":0.041},{"c":"ZAF","t":30,"v":0.041},
{"c":"LKA","t":1,"v":0.275},{"c":"LKA","t":2,"v":0.273},{"c":"LKA","t":3,"v":0.273},{"c":"LKA","t":4,"v":0.237},{"c":"LKA","t":5,"v":0.228},{"c":"LKA","t":6,"v":0.206},{"c":"LKA","t":7,"v":0.197},{"c":"LKA","t":8,"v":0.188},{"c":"LKA","t":9,"v":0.192},{"c":"LKA","t":10,"v":0.169},{"c":"LKA","t":11,"v":0.133},{"c":"LKA","t":12,"v":0.126},{"c":"LKA","t":13,"v":0.128},{"c":"LKA","t":14,"v":0.148},{"c":"LKA","t":15,"v":0.146},{"c":"LKA","t":16,"v":0.135},{"c":"LKA","t":17,"v":0.124},{"c":"LKA","t":18,"v":0.111},{"c":"LKA","t":19,"v":0.111},{"c":"LKA","t":20,"v":0.128},{"c":"LKA","t":21,"v":0.090},{"c":"LKA","t":22,"v":0.094},{"c":"LKA","t":23,"v":0.239},{"c":"LKA","t":24,"v":0.191},{"c":"LKA","t":25,"v":0.189},{"c":"LKA","t":26,"v":0.181},{"c":"LKA","t":27,"v":0.248},{"c":"LKA","t":28,"v":0.221},{"c":"LKA","t":29,"v":0.197},{"c":"LKA","t":30,"v":0.191},
{"c":"CHE","t":1,"v":0.040},{"c":"CHE","t":2,"v":0.040},{"c":"CHE","t":3,"v":0.039},{"c":"CHE","t":4,"v":0.039},{"c":"CHE","t":5,"v":0.037},{"c":"CHE","t":6,"v":0.035},{"c":"CHE","t":7,"v":0.038},{"c":"CHE","t":8,"v":0.030},{"c":"CHE","t":9,"v":0.028},{"c":"CHE","t":10,"v":0.028},{"c":"CHE","t":11,"v":0.026},{"c":"CHE","t":12,"v":0.025},{"c":"CHE","t":13,"v":0.025},{"c":"CHE","t":14,"v":0.024},{"c":"CHE","t":15,"v":0.024},{"c":"CHE","t":16,"v":0.023},{"c":"CHE","t":17,"v":0.022},{"c":"CHE","t":18,"v":0.020},{"c":"CHE","t":19,"v":0.020},{"c":"CHE","t":20,"v":0.020},{"c":"CHE","t":21,"v":0.020},{"c":"CHE","t":22,"v":0.020},{"c":"CHE","t":23,"v":0.018},{"c":"CHE","t":24,"v":0.018},{"c":"CHE","t":25,"v":0.018},{"c":"CHE","t":26,"v":0.017},{"c":"CHE","t":27,"v":0.017},{"c":"CHE","t":28,"v":0.017},{"c":"CHE","t":29,"v":0.017},{"c":"CHE","t":30,"v":0.017},
{"c":"THA","t":1,"v":0.239},{"c":"THA","t":2,"v":0.207},{"c":"THA","t":3,"v":0.187},{"c":"THA","t":4,"v":0.205},{"c":"THA","t":5,"v":0.192},{"c":"THA","t":6,"v":0.184},{"c":"THA","t":7,"v":0.162},{"c":"THA","t":8,"v":0.138},{"c":"THA","t":9,"v":0.103},{"c":"THA","t":10,"v":0.108},{"c":"THA","t":11,"v":0.129},{"c":"THA","t":12,"v":0.130},{"c":"THA","t":13,"v":0.122},{"c":"THA","t":14,"v":0.120},{"c":"THA","t":15,"v":0.100},{"c":"THA","t":16,"v":0.087},{"c":"THA","t":17,"v":0.073},{"c":"THA","t":18,"v":0.063},{"c":"THA","t":19,"v":0.062},{"c":"THA","t":20,"v":0.055},{"c":"THA","t":21,"v":0.053},{"c":"THA","t":22,"v":0.052},{"c":"THA","t":23,"v":0.050},{"c":"THA","t":24,"v":0.048},{"c":"THA","t":25,"v":0.046},{"c":"THA","t":26,"v":0.045},{"c":"THA","t":27,"v":0.044},{"c":"THA","t":28,"v":0.042},{"c":"THA","t":29,"v":0.041},{"c":"THA","t":30,"v":0.041},
{"c":"TUN","t":1,"v":0.423},{"c":"TUN","t":2,"v":0.396},{"c":"TUN","t":3,"v":0.413},{"c":"TUN","t":4,"v":0.396},{"c":"TUN","t":5,"v":0.400},{"c":"TUN","t":6,"v":0.397},{"c":"TUN","t":7,"v":0.374},{"c":"TUN","t":8,"v":0.201},{"c":"TUN","t":9,"v":0.185},{"c":"TUN","t":10,"v":0.167},{"c":"TUN","t":11,"v":0.146},{"c":"TUN","t":12,"v":0.140},{"c":"TUN","t":13,"v":0.122},{"c":"TUN","t":14,"v":0.108},{"c":"TUN","t":15,"v":0.100},{"c":"TUN","t":16,"v":0.092},{"c":"TUN","t":17,"v":0.087},{"c":"TUN","t":18,"v":0.084},{"c":"TUN","t":19,"v":0.083},{"c":"TUN","t":20,"v":0.082},{"c":"TUN","t":21,"v":0.083},{"c":"TUN","t":22,"v":0.085},{"c":"TUN","t":23,"v":0.087},{"c":"TUN","t":24,"v":0.087},{"c":"TUN","t":25,"v":0.088},{"c":"TUN","t":26,"v":0.088},{"c":"TUN","t":27,"v":0.088},{"c":"TUN","t":28,"v":0.088},{"c":"TUN","t":29,"v":0.089},{"c":"TUN","t":30,"v":0.089},
{"c":"TUR","t":1,"v":0.074},{"c":"TUR","t":2,"v":0.058},{"c":"TUR","t":3,"v":0.056},{"c":"TUR","t":4,"v":0.058},{"c":"TUR","t":5,"v":0.041},{"c":"TUR","t":6,"v":0.047},{"c":"TUR","t":7,"v":0.027},{"c":"TUR","t":8,"v":0.027},{"c":"TUR","t":9,"v":0.021},{"c":"TUR","t":10,"v":0.020},{"c":"TUR","t":11,"v":0.019},{"c":"TUR","t":12,"v":0.019},{"c":"TUR","t":13,"v":0.018},{"c":"TUR","t":14,"v":0.018},{"c":"TUR","t":15,"v":0.018},{"c":"TUR","t":16,"v":0.018},{"c":"TUR","t":17,"v":0.017},{"c":"TUR","t":18,"v":0.016},{"c":"TUR","t":19,"v":0.015},{"c":"TUR","t":20,"v":0.015},{"c":"TUR","t":21,"v":0.016},{"c":"TUR","t":22,"v":0.019},{"c":"TUR","t":23,"v":0.020},{"c":"TUR","t":24,"v":0.021},{"c":"TUR","t":25,"v":0.021},{"c":"TUR","t":26,"v":0.020},{"c":"TUR","t":27,"v":0.022},{"c":"TUR","t":28,"v":0.025},{"c":"TUR","t":29,"v":0.026},{"c":"TUR","t":30,"v":0.026},
{"c":"USA","t":1,"v":0.027},{"c":"USA","t":2,"v":0.027},{"c":"USA","t":3,"v":0.027},{"c":"USA","t":4,"v":0.027},{"c":"USA","t":5,"v":0.027},{"c":"USA","t":6,"v":0.024},{"c":"USA","t":7,"v":0.022},{"c":"USA","t":8,"v":0.020},{"c":"USA","t":9,"v":0.018},{"c":"USA","t":10,"v":0.017},{"c":"USA","t":11,"v":0.017},{"c":"USA","t":12,"v":0.017},{"c":"USA","t":13,"v":0.018},{"c":"USA","t":14,"v":0.018},{"c":"USA","t":15,"v":0.018},{"c":"USA","t":16,"v":0.019},{"c":"USA","t":17,"v":0.019},{"c":"USA","t":18,"v":0.019},{"c":"USA","t":19,"v":0.019},{"c":"USA","t":20,"v":0.020},{"c":"USA","t":21,"v":0.020},{"c":"USA","t":22,"v":0.020},{"c":"USA","t":23,"v":0.020},{"c":"USA","t":24,"v":0.020},{"c":"USA","t":25,"v":0.020},{"c":"USA","t":26,"v":0.020},{"c":"USA","t":27,"v":0.020},{"c":"USA","t":28,"v":0.020},{"c":"USA","t":29,"v":0.020},{"c":"USA","t":30,"v":0.020},
{"c":"URY","t":1,"v":0.113},{"c":"URY","t":2,"v":0.103},{"c":"URY","t":3,"v":0.088},{"c":"URY","t":4,"v":0.058},{"c":"URY","t":5,"v":0.060},{"c":"URY","t":6,"v":0.053},{"c":"URY","t":7,"v":0.052},{"c":"URY","t":8,"v":0.052},{"c":"URY","t":9,"v":0.053},{"c":"URY","t":10,"v":0.050},{"c":"URY","t":11,"v":0.045},{"c":"URY","t":12,"v":0.057},{"c":"URY","t":13,"v":0.060},{"c":"URY","t":14,"v":0.065},{"c":"URY","t":15,"v":0.070},{"c":"URY","t":16,"v":0.069},{"c":"URY","t":17,"v":0.068},{"c":"URY","t":18,"v":0.071},{"c":"URY","t":19,"v":0.061},{"c":"URY","t":20,"v":0.054},{"c":"URY","t":21,"v":0.059},{"c":"URY","t":22,"v":0.060},{"c":"URY","t":23,"v":0.060},{"c":"URY","t":24,"v":0.060},{"c":"URY","t":25,"v":0.061},{"c":"URY","t":26,"v":0.057},{"c":"URY","t":27,"v":0.041},{"c":"URY","t":28,"v":0.051},{"c":"URY","t":29,"v":0.057},{"c":"URY","t":30,"v":0.058}
]},
"hconcat":[
{
"width":953,"height":1023,
"title":{"text":"duties by group","fontSize":24,"fontWeight":"normal","offset":24,"anchor":"middle","color":"#000"},
"view":{"stroke":"#000","strokeWidth":1.5},
"resolve":{"axis":{"x":"independent","y":"independent"}},
"layer":[
{"mark":{"type":"line","strokeWidth":2.6,"clip":true},
"encoding":{
"x":{"field":"t","type":"quantitative","scale":{"domain":[0.33,30.7],"nice":false,"zero":false},"axis":{"values":[5,10,15,20,25,30],"title":"TIME PERIOD","titlePadding":22,"grid":false,"domain":false,"tickSize":-12,"tickWidth":1.2,"labelPadding":34,"labelFlush":false,"labelOffset":4}},
"y":{"field":"v","type":"quantitative","scale":{"domain":[-0.05,0.5],"nice":false,"zero":false},"axis":{"values":[-0.05,0,0.05,0.1,0.15,0.2,0.25,0.3,0.35,0.4,0.45,0.5],"labelExpr":"replace(replace(format(datum.value,'.2~f'),'.',','),'−','-')","title":null,"grid":false,"domain":false,"tickSize":-12,"tickWidth":1.2,"labelPadding":28,"labelFlush":false}},
"color":{"field":"c","type":"nominal","legend":null,"scale":{"domain":["ARG","AUS","AUT","BOL","BGR","CHL","CRI","DOM","EGY","FIN","FRA","GRC","GTM","IND","IDN","IRN","JAM","KOR","MUS","MEX","MAR","NZL","NOR","PER","PHL","PRT","ZAF","LKA","CHE","THA","TUN","TUR","USA","URY"],"range":["#ff0000","#0000ff","#00c000","#c030c0","#90a0a8","#ffa500","#e02010","#000000","#ff0000","#0000ff","#00c000","#c030c0","#90a0a8","#ffa500","#e02010","#000000","#ff0000","#0000ff","#00c000","#c030c0","#90a0a8","#ffa500","#e02010","#000000","#ff0000","#0000ff","#00c000","#c030c0","#90a0a8","#ffa500","#e02010","#000000","#ff0000","#0000ff"]}}
}},
{"transform":[{"filter":{"field":"c","oneOf":["ARG","AUS","AUT","BOL","CHL","DOM","FIN","GRC","IND","IRN","JAM","KOR","MUS","MAR","NOR","PHL","ZAF","CHE","TUN","TUR","USA","URY"]}}],
"mark":{"type":"point","filled":false,"strokeWidth":2,"size":150,"opacity":1,"clip":true},
"encoding":{
"x":{"field":"t","type":"quantitative","axis":null},
"y":{"field":"v","type":"quantitative","axis":null},
"color":{"field":"c","type":"nominal","legend":null},
"shape":{"field":"c","type":"nominal","legend":null,"scale":{"domain":["ARG","AUS","AUT","BOL","BGR","CHL","CRI","DOM","EGY","FIN","FRA","GRC","GTM","IND","IDN","IRN","JAM","KOR","MUS","MEX","MAR","NZL","NOR","PER","PHL","PRT","ZAF","LKA","CHE","THA","TUN","TUR","USA","URY"],"range":["M-1,0H1M0,-1V1","M-0.75,-0.75L0.75,0.75M-0.75,0.75L0.75,-0.75","M-1,0H1M0,-1V1M-0.7,-0.7L0.7,0.7M-0.7,0.7L0.7,-0.7","square","square","circle","circle","triangle-up","triangle-up","triangle-down","triangle-down","diamond","diamond","M0,-1L0.95,-0.31L0.59,0.81L-0.59,0.81L-0.95,-0.31Z","M0,-1L0.95,-0.31L0.59,0.81L-0.59,0.81L-0.95,-0.31Z","M-1,0H1M0,-1V1","M-0.75,-0.75L0.75,0.75M-0.75,0.75L0.75,-0.75","M-1,0H1M0,-1V1M-0.7,-0.7L0.7,0.7M-0.7,0.7L0.7,-0.7","square","square","circle","circle","triangle-up","triangle-up","triangle-down","triangle-down","diamond","diamond","M0,-1L0.95,-0.31L0.59,0.81L-0.59,0.81L-0.95,-0.31Z","M0,-1L0.95,-0.31L0.59,0.81L-0.59,0.81L-0.95,-0.31Z","M-1,0H1M0,-1V1","M-0.75,-0.75L0.75,0.75M-0.75,0.75L0.75,-0.75","M-1,0H1M0,-1V1M-0.7,-0.7L0.7,0.7M-0.7,0.7L0.7,-0.7","square"]}}
}},
{"transform":[{"filter":{"field":"c","oneOf":["BGR","CRI","EGY","FRA","GTM","IDN","MEX","NZL","PER","PRT","LKA","THA"]}}],
"mark":{"type":"point","filled":true,"size":150,"opacity":1,"clip":true},
"encoding":{
"x":{"field":"t","type":"quantitative","axis":{"orient":"top","values":[5,10,15,20,25,30],"labels":false,"title":null,"grid":false,"domain":false,"tickSize":-12,"tickWidth":1.2}},
"y":{"field":"v","type":"quantitative","axis":{"orient":"right","values":[-0.05,0,0.05,0.1,0.15,0.2,0.25,0.3,0.35,0.4,0.45,0.5],"labels":false,"title":null,"grid":false,"domain":false,"tickSize":-12,"tickWidth":1.2}},
"color":{"field":"c","type":"nominal","legend":null},
"shape":{"field":"c","type":"nominal","legend":null}
}}
]
},
{
"width":176,"height":558,
"data":{"values":[{"c":"ARG"},{"c":"AUS"},{"c":"AUT"},{"c":"BOL"},{"c":"BGR"},{"c":"CHL"},{"c":"CRI"},{"c":"DOM"},{"c":"EGY"},{"c":"FIN"},{"c":"FRA"},{"c":"GRC"},{"c":"GTM"},{"c":"IND"},{"c":"IDN"},{"c":"IRN"},{"c":"JAM"}]},
"encoding":{"y":{"field":"c","type":"nominal","axis":null,"scale":{"domain":["ARG","AUS","AUT","BOL","BGR","CHL","CRI","DOM","EGY","FIN","FRA","GRC","GTM","IND","IDN","IRN","JAM"]}}},
"layer":[
{"mark":{"type":"point","shape":"M-1,0H1","size":5776,"strokeWidth":2.6,"filled":false,"opacity":1,"xOffset":68},"encoding":{"color":{"field":"c","type":"nominal","legend":null}}},
{"transform":[{"filter":{"field":"c","oneOf":["ARG","AUS","AUT","BOL","CHL","DOM","FIN","GRC","IND","IRN","JAM"]}}],"mark":{"type":"point","filled":false,"strokeWidth":2,"size":150,"opacity":1,"xOffset":68},"encoding":{"color":{"field":"c","type":"nominal","legend":null},"shape":{"field":"c","type":"nominal","legend":null}}},
{"transform":[{"filter":{"field":"c","oneOf":["BGR","CRI","EGY","FRA","GTM","IDN"]}}],"mark":{"type":"point","filled":true,"size":150,"opacity":1,"xOffset":68},"encoding":{"color":{"field":"c","type":"nominal","legend":null},"shape":{"field":"c","type":"nominal","legend":null}}},
{"mark":{"type":"text","align":"right","baseline":"middle","dx":11,"fontSize":24,"color":"#000"},"encoding":{"text":{"field":"c","type":"nominal"}}}
]
},
{
"width":176,"height":558,
"data":{"values":[{"c":"KOR"},{"c":"MUS"},{"c":"MEX"},{"c":"MAR"},{"c":"NZL"},{"c":"NOR"},{"c":"PER"},{"c":"PHL"},{"c":"PRT"},{"c":"ZAF"},{"c":"LKA"},{"c":"CHE"},{"c":"THA"},{"c":"TUN"},{"c":"TUR"},{"c":"USA"},{"c":"URY"}]},
"encoding":{"y":{"field":"c","type":"nominal","axis":null,"scale":{"domain":["KOR","MUS","MEX","MAR","NZL","NOR","PER","PHL","PRT","ZAF","LKA","CHE","THA","TUN","TUR","USA","URY"]}}},
"layer":[
{"mark":{"type":"point","shape":"M-1,0H1","size":5776,"strokeWidth":2.6,"filled":false,"opacity":1,"xOffset":68},"encoding":{"color":{"field":"c","type":"nominal","legend":null}}},
{"transform":[{"filter":{"field":"c","oneOf":["KOR","MUS","MAR","NOR","PHL","ZAF","CHE","TUN","TUR","USA","URY"]}}],"mark":{"type":"point","filled":false,"strokeWidth":2,"size":150,"opacity":1,"xOffset":68},"encoding":{"color":{"field":"c","type":"nominal","legend":null},"shape":{"field":"c","type":"nominal","legend":null}}},
{"transform":[{"filter":{"field":"c","oneOf":["MEX","NZL","PER","PRT","LKA","THA"]}}],"mark":{"type":"point","filled":true,"size":150,"opacity":1,"xOffset":68},"encoding":{"color":{"field":"c","type":"nominal","legend":null},"shape":{"field":"c","type":"nominal","legend":null}}},
{"mark":{"type":"text","align":"right","baseline":"middle","dx":11,"fontSize":24,"color":"#000"},"encoding":{"text":{"field":"c","type":"nominal"}}}
]
}
],
"spacing":0,
"bounds":"flush"
}
